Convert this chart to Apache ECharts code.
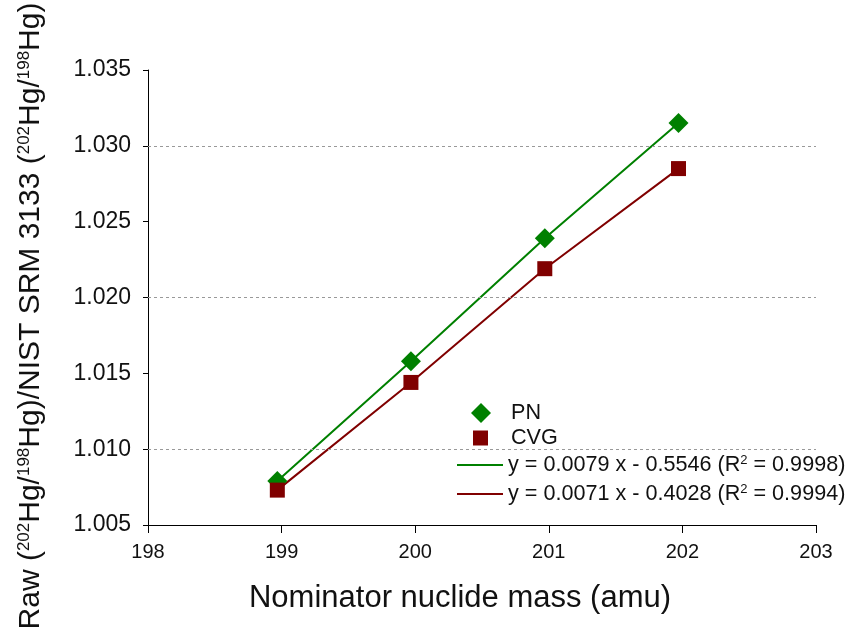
<!DOCTYPE html>
<html>
<head>
<meta charset="utf-8">
<script src="https://cdn.jsdelivr.net/npm/echarts@6/dist/echarts.min.js"></script>
<style>html,body{margin:0;padding:0;background:#fff;}#chart{width:851px;height:628px;}</style>
</head>
<body>
<div id="chart"></div>
<script>
const massNumbers = [198.968, 199.968, 200.970, 201.971];
const ratioPN = [1.0079, 1.0158, 1.0239, 1.0315];
const ratioCVG = [1.0073, 1.0144, 1.0219, 1.0285];
const seriesNames = ['PN', 'CVG'];
const fitNames = ['y = 0.0079 x - 0.5546 (R2 = 0.9998)', 'y = 0.0071 x - 0.4028 (R2 = 0.9994)'];
const gridValues = [1.010, 1.015, 1.020, 1.025, 1.030];
const xTicks = [198, 203, 1];
const yTicks = [1.005, 1.035, 0.005];
const xTitle = 'Nominator nuclide mass (amu)';

const green = '#008000', red = '#800000';
const pairs = arr => massNumbers.map((m, i) => [m, arr[i]]);
const FONT = 'Liberation Sans, Arial, sans-serif';

const chart = echarts.init(document.getElementById('chart'), null, {renderer: 'canvas'});
const legendCommon = {
  orient: 'vertical',
  textStyle: {fontFamily: FONT, fontSize: 21.6, color: '#111', lineHeight: 22,
    rich: {t: {fontFamily: FONT, fontSize: 21.6, lineHeight: 22, color: '#111'},
           s: {fontFamily: FONT, fontSize: 13, lineHeight: 13, verticalAlign: 'top', color: '#111'}}},
  formatter: name => {
    if (name.indexOf('R2') < 0) return name;
    const parts = name.split('R2');
    return '{t|' + parts[0] + 'R}{s|2}{t|' + parts[1] + '}';
  },
  itemStyle: {borderWidth: 0},
  selectedMode: false
};
chart.setOption({
  animation: false,
  backgroundColor: '#fff',
  grid: {left: 148, right: 35, top: 70, bottom: 103},
  legend: [
    Object.assign({}, legendCommon, {data: [seriesNames[0]], left: 466, top: 397, itemWidth: 20, itemHeight: 20, itemGap: 0,
      textStyle: Object.assign({}, legendCommon.textStyle, {padding: [0, 0, 0, 15]})}),
    Object.assign({}, legendCommon, {data: [seriesNames[1]], left: 468, top: 422, itemWidth: 15, itemHeight: 15, itemGap: 0,
      textStyle: Object.assign({}, legendCommon.textStyle, {padding: [0, 0, 0, 18]})}),
    Object.assign({}, legendCommon, {data: fitNames.map(n => ({name: n, icon: 'rect'})), left: 452, top: 449, itemWidth: 46, itemHeight: 2, itemGap: 7})
  ],
  xAxis: {
    type: 'value', min: xTicks[0], max: xTicks[1], interval: xTicks[2],
    axisLine: {lineStyle: {color: '#000', width: 1}},
    axisTick: {show: true, inside: false, length: 8, lineStyle: {color: '#000'}},
    axisLabel: {fontFamily: FONT, fontSize: 20, color: '#111', margin: 17},
    splitLine: {show: false}
  },
  yAxis: {
    type: 'value', min: yTicks[0], max: yTicks[1], interval: yTicks[2],
    axisLine: {show: true, lineStyle: {color: '#000', width: 1}},
    axisTick: {show: true, inside: false, length: 5, lineStyle: {color: '#000'}},
    axisLabel: {fontFamily: FONT, fontSize: 23, color: '#111', margin: 17, formatter: v => v.toFixed(3)},
    splitLine: {show: false}
  },
  graphic: [
    {type: 'text', x: 460, y: 598, style: {text: xTitle, fontFamily: FONT, fontSize: 31, fill: '#111', align: 'center', verticalAlign: 'middle'}},
    {type: 'text', x: 31, y: 316, rotation: Math.PI / 2,
     style: {
       text: '{m|Raw (}{s|202}{m|Hg/}{s|198}{m|Hg)/NIST SRM 3133 (}{s|202}{m|Hg/}{s|198}{m|Hg)}',
       align: 'center', verticalAlign: 'middle',
       rich: {m: {fontFamily: FONT, fontSize: 30, lineHeight: 31, fill: '#111'},
              s: {fontFamily: FONT, fontSize: 17, lineHeight: 17, verticalAlign: 'top', fill: '#111'}}
     }}
  ],
  series: [
    {name: fitNames[0], type: 'line', data: pairs(ratioPN), symbol: 'none', lineStyle: {color: green, width: 2}, itemStyle: {color: green}, z: 2,
     markLine: {silent: true, symbol: 'none', label: {show: false}, lineStyle: {color: '#999', type: [3, 3], width: 1}, data: gridValues.map(v => ({yAxis: v}))}},
    {name: fitNames[1], type: 'line', data: pairs(ratioCVG), symbol: 'none', lineStyle: {color: red, width: 2}, itemStyle: {color: red}, z: 2},
    {name: seriesNames[0], type: 'scatter', data: pairs(ratioPN), symbol: 'diamond', symbolSize: 20, itemStyle: {color: green, opacity: 1}, z: 5},
    {name: seriesNames[1], type: 'scatter', data: pairs(ratioCVG), symbol: 'rect', symbolSize: 15, itemStyle: {color: red, opacity: 1}, z: 5}
  ]
});
</script>
</body>
</html>
